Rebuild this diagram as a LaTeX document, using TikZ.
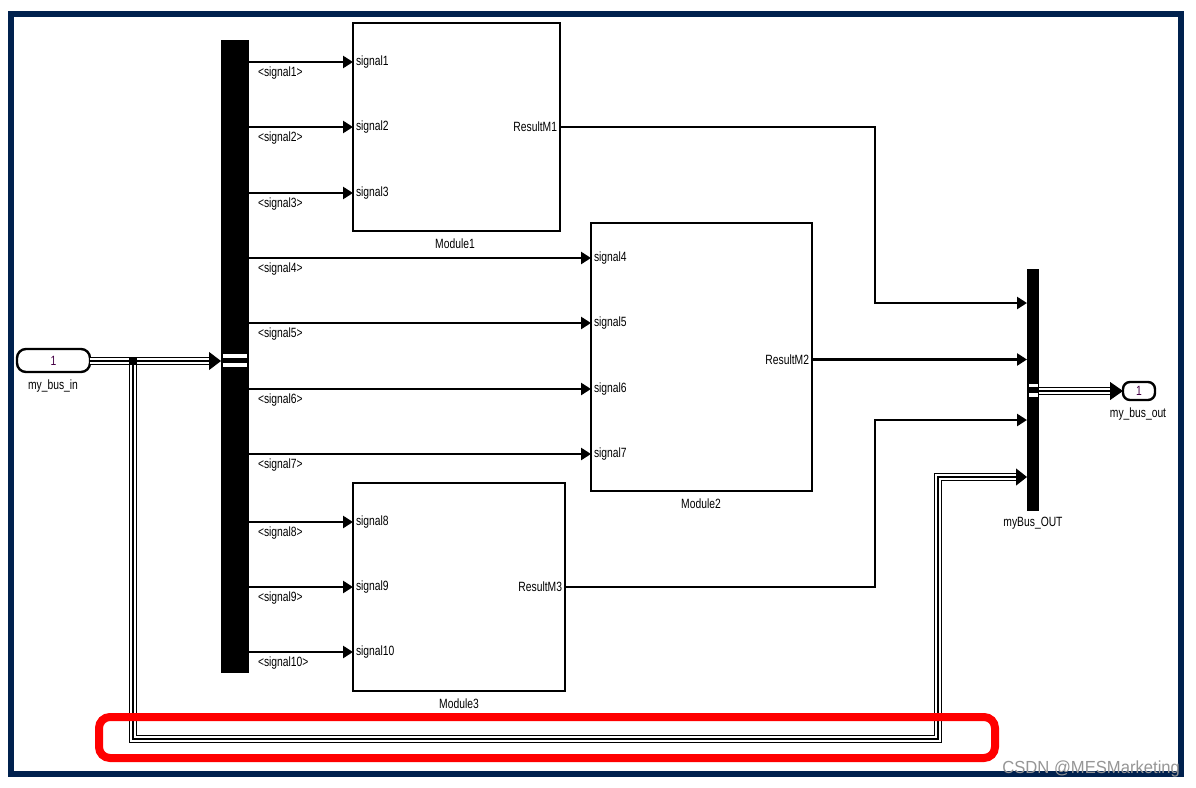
\documentclass[tikz,border=0pt]{standalone}
\usepackage{fontspec}
\setmainfont{Liberation Sans}[FakeStretch=0.77]
\newfontfamily\wmfont{Liberation Sans}[FakeStretch=0.95]
\usetikzlibrary{arrows.meta,calc}
\definecolor{navy}{RGB}{0,33,78}
\definecolor{portnum}{RGB}{70,0,70}
\definecolor{wmgray}{RGB}{150,150,150}
\begin{document}
\begin{tikzpicture}[x=1pt,y=-1pt,font=\fontsize{13.4}{14}\selectfont,
  blk/.style={draw,line width=2.6pt,fill=white,inner sep=0pt,outer sep=0pt},
  barblk/.style={fill=black,inner sep=0pt,outer sep=0pt},
  sig/.style={line width=2.6pt,-{Triangle[length=10pt,width=12pt]}},
  bus/.style={line width=1.4pt,preaction={draw,line width=8pt},preaction={draw,white,line width=5.2pt}},
  lab/.style={inner sep=0pt,outer sep=0pt},
  port/.style={draw,line width=2.4pt,rounded corners=9pt,inner sep=0pt,outer sep=0pt},
  whitebar/.style={fill=white,inner sep=0pt,outer sep=0pt}]
\useasboundingbox (0,0) rectangle (1196,787);
\fill[white] (0,0) rectangle (1196,787);

% blocks
\node[barblk,minimum width=28pt,minimum height=633pt] (demux) at (235,356.5) {};
\node[whitebar,minimum width=24pt,minimum height=4pt] (dw1) at (235,356) {};
\node[whitebar,minimum width=24pt,minimum height=4pt] (dw2) at (235,364.5) {};
\node[blk,minimum width=207pt,minimum height=208pt] (m1) at (456.5,127) {};
\node[blk,minimum width=221pt,minimum height=268pt] (m2) at (701.5,357) {};
\node[blk,minimum width=212pt,minimum height=208pt] (m3) at (459,587) {};
\node[barblk,minimum width=12pt,minimum height=242pt] (bout) at (1033,390) {};
\node[whitebar,minimum width=9pt,minimum height=3.5pt] (bw1) at (1033,385.5) {};
\node[whitebar,minimum width=9pt,minimum height=3.5pt] (bw2) at (1033,395) {};
\node[port,minimum width=73pt,minimum height=23pt] (inp) at (53.5,360.5) {\textcolor{portnum}{1}};
\node[port,minimum width=32pt,minimum height=18pt,rounded corners=7pt] (outp) at (1139,391) {\textcolor{portnum}{1}};

% block labels
\node[lab] (linp) at (53,386) {my\_bus\_in};
\node[lab] (loutp) at (1138,414) {my\_bus\_out};
\node[lab] (lbout) at (1033,523) {myBus\_OUT};
\node[lab] (lm1) at (455,244) {Module1};
\node[lab] (lm2) at (701,504) {Module2};
\node[lab] (lm3) at (459,704) {Module3};

% port coordinates
\coordinate (p1) at (m1.west |- 0,62);
\coordinate (p2) at (m1.west |- 0,127);
\coordinate (p3) at (m1.west |- 0,193);
\coordinate (p4) at (m2.west |- 0,258);
\coordinate (p5) at (m2.west |- 0,323);
\coordinate (p6) at (m2.west |- 0,389);
\coordinate (p7) at (m2.west |- 0,454);
\coordinate (p8) at (m3.west |- 0,522);
\coordinate (p9) at (m3.west |- 0,587);
\coordinate (p10) at (m3.west |- 0,652);

\foreach \i in {1,...,10} {
  \draw[sig] (demux.east |- p\i) -- (p\i);
  \node[lab,anchor=west] (lp\i) at ($(p\i)+(3,0)$) {signal\i};
  \node[lab,anchor=west] (ls\i) at ($(demux.east |- p\i)+(9,11)$) {<signal\i>};
}

% outputs
\coordinate (o1) at (m1.east |- 0,127);
\coordinate (o2) at (m2.east |- 0,359.5);
\coordinate (o3) at (m3.east |- 0,587);
\node[lab,anchor=east] (lo1) at ($(o1)+(-3,0)$) {ResultM1};
\node[lab,anchor=east] (lo2) at ($(o2)+(-3,0)$) {ResultM2};
\node[lab,anchor=east] (lo3) at ($(o3)+(-3,0)$) {ResultM3};
\coordinate (i1) at (bout.west |- 0,303);
\coordinate (i2) at (bout.west |- 0,359.5);
\coordinate (i3) at (bout.west |- 0,420);
\coordinate (i4) at (bout.west |- 0,477);
\draw[sig] (o1) -| (875,200) |- (i1);
\draw[sig] (o2) -- (i2);
\draw[sig] (o3) -| (875,500) |- (i3);

% bus in
\coordinate (bin) at (demux.west |- 0,361);
\draw[bus] (inp.east |- 0,361) -- ($(bin)+(-11,0)$);
\draw[line width=1pt,-{Triangle[length=12pt,width=18pt]}] ($(bin)+(-13,0)$) -- (bin);
\draw[bus] (133,361) -- (133,739) -- (938,739) -- (938,477) -- ($(i4)+(-10,0)$);
\draw[line width=1pt,-{Triangle[length=11pt,width=17pt]}] ($(i4)+(-12,0)$) -- (i4);
\node[fill=black,minimum size=8pt,inner sep=0pt] (br) at (133,361) {};

% bus out
\coordinate (bo) at (bout.east |- 0,391);
\draw[bus] (bo) -- ($(outp.west)+(-12,0)$);
\draw[line width=1pt,-{Triangle[length=13pt,width=18pt]}] ($(outp.west)+(-14,0)$) -- (outp.west);

% frame and highlight
\draw[navy,line width=6pt] (11,14) rectangle (1181,774);
\draw[red,line width=8pt,rounded corners=11pt] (99,717) rectangle (995,758);
\node[lab,anchor=base east,text=wmgray,font=\wmfont\fontsize{17.5}{18}\selectfont] (wm) at (1180,773) {CSDN @MESMarketing};
\end{tikzpicture}
\end{document}
